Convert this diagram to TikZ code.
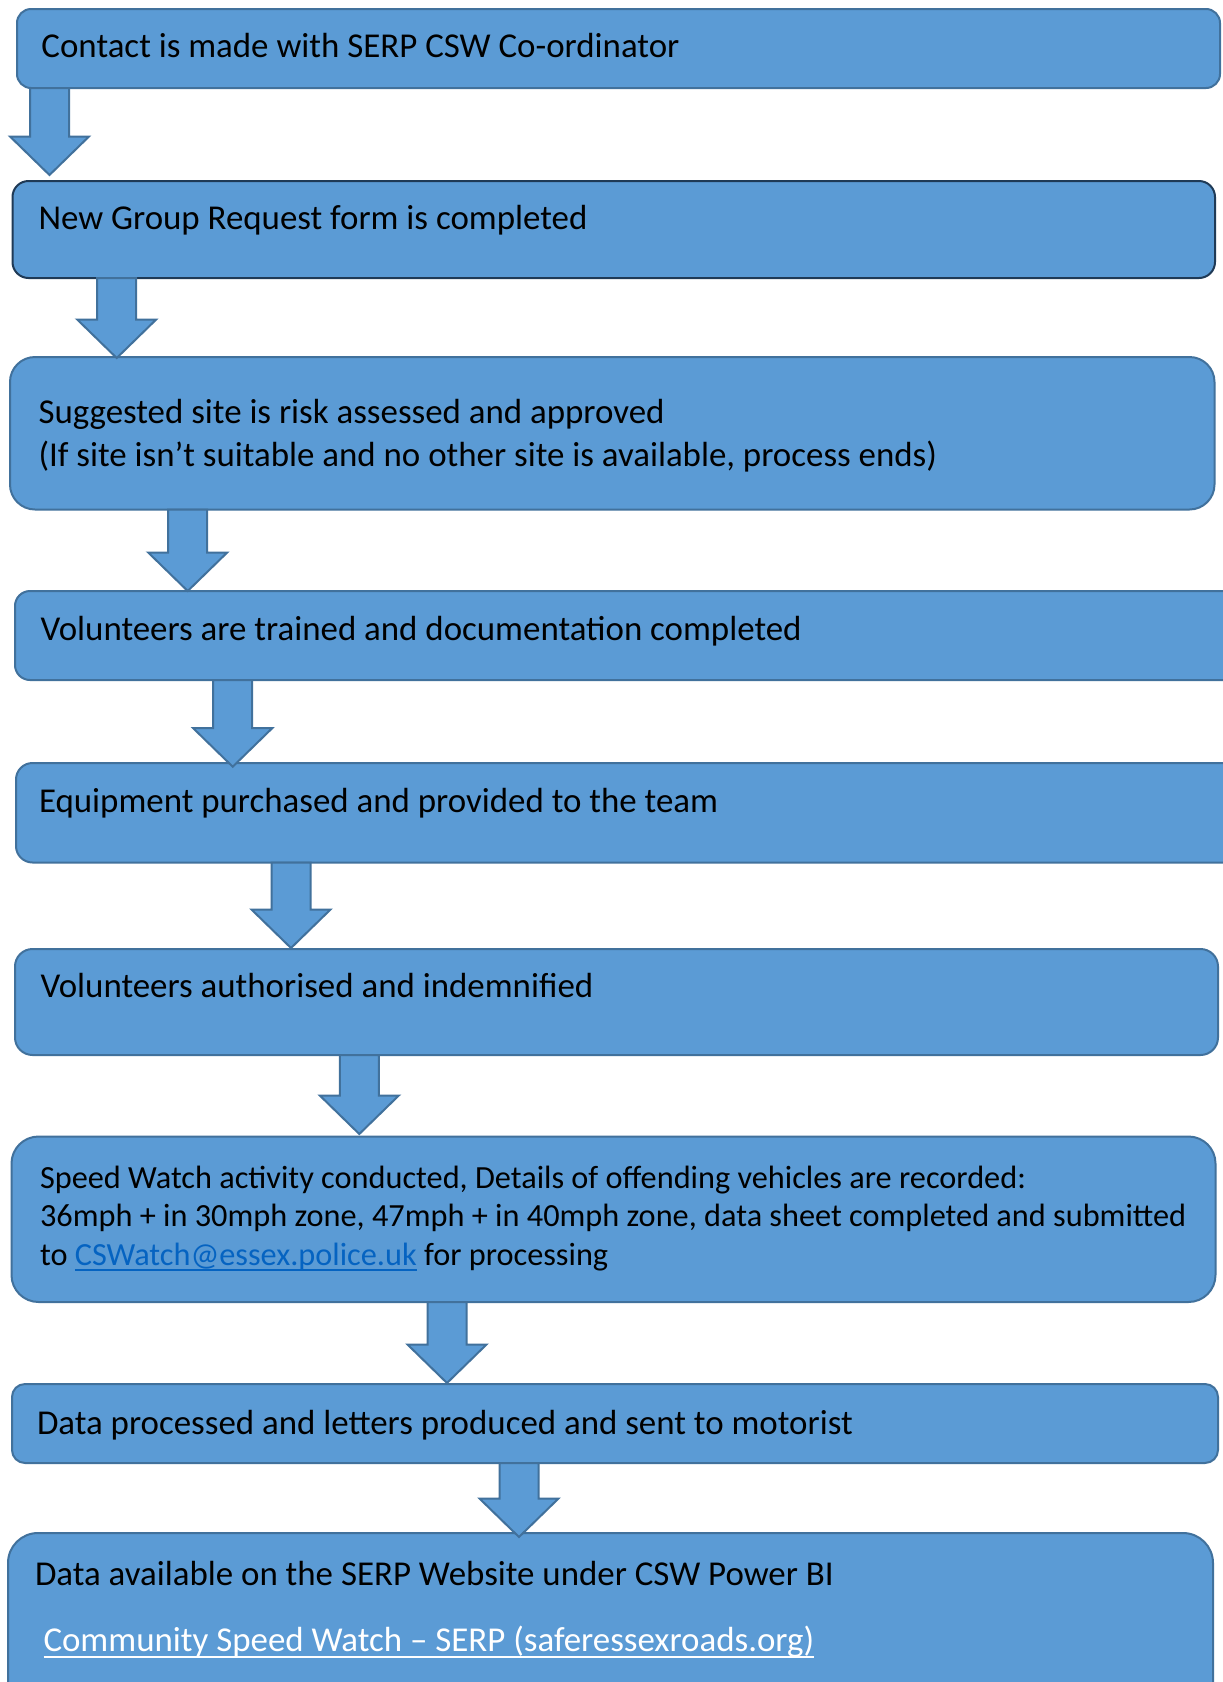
\documentclass[tikz,border=0pt]{standalone}
\usepackage{fontspec}
\setmainfont{Carlito}
\usetikzlibrary{calc}
\definecolor{fillblue}{HTML}{5B9BD5}
\definecolor{edgeblue}{HTML}{41719C}
\definecolor{darkedge}{HTML}{1F3A56}
\definecolor{linkblue}{HTML}{0563C1}
\newcommand\myul[1]{\leavevmode\setbox0=\hbox{#1}\rlap{\vrule height -4.2pt depth 5.8pt width \wd0}\box0}
\tikzset{
  box/.style={draw=edgeblue, fill=fillblue, line width=2pt, inner sep=0pt, outer sep=0pt},
  barrow/.style={draw=edgeblue, fill=fillblue, line width=2pt, line join=miter},
  txt/.style={anchor=base west, inner sep=0pt, outer sep=0pt, text=black, font=\fontsize{34.9}{42}\selectfont},
  smalltxt/.style={txt, font=\fontsize{32.3}{39}\selectfont},
}
% #1 x of arrow axis, #2 from node, #3 to node, #4 tip offset (negative = up)
\newcommand\blockarrow[4]{%
  \path (#1,0 |- #2.south) coordinate (ta);
  \path (#1,0 |- #3.north) ++(0,#4) coordinate (tb);
  \draw[barrow] ($(ta)+(-19.5,0)$) -- ($(ta)+(19.5,0)$) -- ($(tb)+(19.5,-38.5)$)
    -- ($(tb)+(39.5,-38.5)$) -- (tb) -- ($(tb)+(-39.5,-38.5)$)
    -- ($(tb)+(-19.5,-38.5)$) -- cycle;}
\begin{document}
\begin{tikzpicture}[x=1pt, y=-1pt]
\useasboundingbox (0,0) rectangle (1223,1682);
\fill[white] (0,0) rectangle (1223,1682);
\clip (0,0) rectangle (1223,1682);

% boxes
\node[box, minimum width=1203pt, minimum height=79pt, rounded corners=14pt] (b1) at (618.5,48.5) {};
\node[box, draw=darkedge, minimum width=1202.5pt, minimum height=97pt, rounded corners=16pt] (b2) at (613.75,229.5) {};
\node[box, minimum width=1204.5pt, minimum height=152.5pt, rounded corners=25pt] (b3) at (612.25,433.25) {};
\node[box, minimum width=1225pt, minimum height=89pt, rounded corners=15pt] (b4) at (627.5,635.5) {};
\node[box, minimum width=1224pt, minimum height=99.5pt, rounded corners=16.5pt] (b5) at (628,812.75) {};
\node[box, minimum width=1203pt, minimum height=106pt, rounded corners=17.5pt] (b6) at (616.5,1002) {};
\node[box, minimum width=1204pt, minimum height=165.5pt, rounded corners=27pt] (b7) at (613.5,1219.25) {};
\node[box, minimum width=1206pt, minimum height=79pt, rounded corners=13pt] (b8) at (615,1423.5) {};
\node[box, minimum width=1205pt, minimum height=207pt, rounded corners=30pt] (b9) at (610.5,1636.5) {};

% arrows
\blockarrow{49.5}{b1}{b2}{-6}
\blockarrow{116.7}{b2}{b3}{1}
\blockarrow{187.7}{b3}{b4}{0}
\blockarrow{232.7}{b4}{b5}{3.7}
\blockarrow{291}{b5}{b6}{-1}
\blockarrow{359.3}{b6}{b7}{-2.5}
\blockarrow{447}{b7}{b8}{-1}
\blockarrow{519}{b8}{b9}{4}

% texts
\node[txt] (t1) at (41.5,57) {Contact is made with SERP CSW Co-ordinator};
\node[txt] (t2) at (38.5,229) {New Group Request form is completed};
\node[txt] (t3a) at (38.5,423.3) {Suggested site is risk assessed and approved};
\node[txt] (t3b) at (38.5,466.7) {(If site isn’t suitable and no other site is available, process ends)};
\node[txt] (t4) at (40.5,640) {Volunteers are trained and documentation completed};
\node[txt] (t5) at (39,812) {Equipment purchased and provided to the team};
\node[txt] (t6) at (40.5,997) {Volunteers authorised and indemnified};
\node[smalltxt] (t7a) at (40,1188) {Speed Watch activity conducted, Details of offending vehicles are recorded:};
\node[smalltxt] (t7b) at (40,1226.5) {36mph + in 30mph zone, 47mph + in 40mph zone, data sheet completed and submitted};
\node[smalltxt] (t7c) at (40,1265) {to {\color{linkblue}\myul{CSWatch@essex.police.uk}} for processing};
\node[txt] (t8) at (37,1434) {Data processed and letters produced and sent to motorist};
\node[txt] (t9a) at (35,1585) {Data available on the SERP Website under CSW Power BI};
\node[txt] (t9b) at (43.5,1651.7) {{\color{white}\myul{Community Speed Watch – SERP (saferessexroads.org)}}};
\end{tikzpicture}
\end{document}
